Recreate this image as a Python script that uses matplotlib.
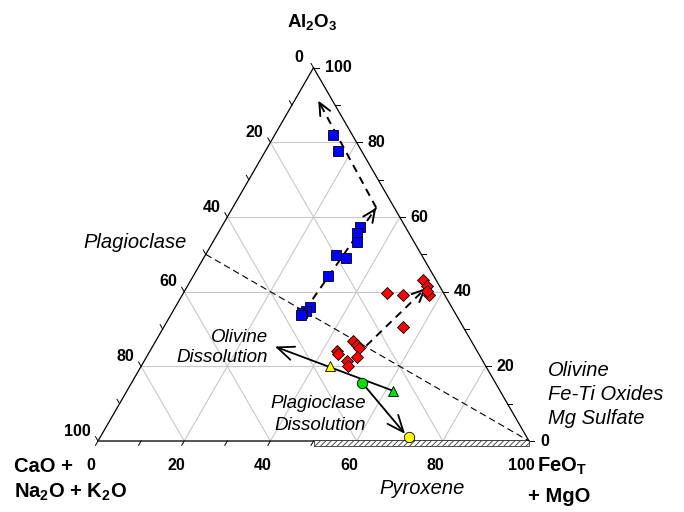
import numpy as np
import matplotlib
matplotlib.use('Agg')
import matplotlib.pyplot as plt
from matplotlib.patches import Rectangle
from matplotlib.patches import ArrowStyle

plt.rcParams['font.family'] = ['Liberation Sans', 'DejaVu Sans']
plt.rcParams['mathtext.fontset'] = 'custom'
plt.rcParams['mathtext.rm'] = 'Liberation Sans'
plt.rcParams['mathtext.it'] = 'Liberation Sans:italic'
plt.rcParams['mathtext.bf'] = 'Liberation Sans:bold'
plt.rcParams['mathtext.default'] = 'bf'
plt.rcParams['hatch.linewidth'] = 0.6

# ---------------- data (wt%): Al2O3 and FeOT+MgO; CaO+Na2O+K2O = remainder
blue_al = [82.0, 77.8, 57.3, 55.7, 53.2, 49.9, 49.1, 44.3, 36.0, 34.9, 34.4, 33.8]
blue_fm = [13.6, 16.7, 32.1, 32.2, 33.6, 30.2, 33.0, 31.3, 31.2, 30.8, 30.1, 30.1]

red_al = [39.6, 39.1, 43.0, 41.6, 39.1, 40.2, 30.6, 26.8, 25.7, 25.0, 24.1, 23.3, 22.6, 21.4, 20.2]
red_fm = [47.2, 51.3, 54.0, 55.6, 57.3, 56.2, 55.5, 45.8, 47.3, 48.1, 43.3, 44.0, 48.9, 47.1, 48.0]

yellow_tri = (20.1, 43.8)   # (Al2O3, FeOT+MgO)
green_circ = (15.5, 53.6)
green_tri = (13.5, 61.6)
yellow_circ = (1.0, 71.6)

# trend arrows (Al2O3, FeOT+MgO)
blue_arrow1 = [(35.0, 30.5), (62.5, 33.3)]
blue_arrow2 = [(62.5, 33.3), (91.2, 5.5)]
red_arrow = [(23.0, 48.5), (41.0, 55.6)]
olivine_arrow = [green_tri, (25.3, 28.4)]
plag_arrow = [green_circ, (1.9, 70.3)]
plag_line = [(50.0, 0.0), (0.0, 100.0)]
pyroxene_range = [50.0, 100.0]

ticks_major = [0, 20, 40, 60, 80, 100]
grid_vals = [20, 40, 60, 80]

H = np.sqrt(3) / 2


def tern(al, fm):
    al = np.asarray(al, float) / 100.0
    fm = np.asarray(fm, float) / 100.0
    return fm + al / 2.0, al * H


# pixel helper for layout (text placement only)
S = 431.0
X0, Y0 = 98.0, 441.0


def px(X, Y):
    return (X - X0) / S, (Y0 - Y) / S


fig = plt.figure(figsize=(6.84, 5.12), dpi=100)
ax = fig.add_axes([0, 0, 1, 1])
ax.set_xlim(-X0 / S, (684 - X0) / S)
ax.set_ylim(-(512 - Y0) / S, Y0 / S)
ax.axis('off')

# grid
gc = '#c8c8c8'
for k in grid_vals:
    x, y = tern([k, k], [0, 100 - k]); ax.plot(x, y, color=gc, lw=0.8, zorder=1)
    x, y = tern([0, 100 - k], [k, k]); ax.plot(x, y, color=gc, lw=0.8, zorder=1)
    x, y = tern([100 - k, 0], [0, 100 - k]); ax.plot(x, y, color=gc, lw=0.8, zorder=1)

# triangle edges
x, y = tern([0, 100], [0, 0]); ax.plot(x, y, color='black', lw=0.9, zorder=2)
x, y = tern([100, 0], [0, 100]); ax.plot(x, y, color='black', lw=0.9, zorder=2)
x, y = tern([0, 0], [0, 100]); ax.plot(x, y, color='#555555', lw=1.4, zorder=2)

# ticks
tl = 5.0 / S
for k in range(0, 101, 10):
    bx, by = tern(0, k)
    ax.plot([bx, bx - 0.5 * tl], [by, by - H * tl], color='black', lw=0.7, zorder=2)
    rx, ry = tern(k, 100 - k)
    ax.plot([rx, rx + tl], [ry, ry], color='black', lw=0.7, zorder=2)
    lx, ly = tern(100 - k, 0)
    ax.plot([lx, lx - 0.5 * tl], [ly, ly + H * tl], color='black', lw=0.7, zorder=2)

p2pt = 0.72
tfs = 11.5
for k in ticks_major:
    bx, by = tern(0, k)
    ax.annotate(str(k), (bx, by), xytext=(-7.5 * p2pt, -24 * p2pt), textcoords='offset points',
                ha='center', va='center', fontsize=tfs, fontweight='bold')
    rx, ry = tern(k, 100 - k)
    ax.annotate(str(k), (rx, ry), xytext=(11 * p2pt, 0), textcoords='offset points',
                ha='left', va='center', fontsize=tfs, fontweight='bold')
    lx, ly = tern(100 - k, 0)
    off_x = -10 if k == 0 else -7
    ax.annotate(str(k), (lx, ly), xytext=(off_x * p2pt, 10 * p2pt), textcoords='offset points',
                ha='right', va='center', fontsize=tfs, fontweight='bold')

# pyroxene hatched bar
bx0, _ = tern(0, pyroxene_range[0])
bx1, _ = tern(0, pyroxene_range[1])
ax.add_patch(Rectangle((bx0, -4.5 / S), bx1 - bx0, 5.5 / S, facecolor='white',
                       edgecolor='#333333', hatch='//////', lw=0.6, zorder=3))

# plagioclase - FeO line
x, y = tern([p[0] for p in plag_line], [p[1] for p in plag_line])
ax.plot(x, y, color='black', lw=0.8, dashes=(6, 3.5), zorder=3)


def dashed_arrow(pts, lw=1.4, hl=0.55, hw=0.25, ms=16):
    x, y = tern([p[0] for p in pts], [p[1] for p in pts])
    ax.plot(x, y, color='black', lw=lw, dashes=(4, 3), zorder=4)
    bx = x[1] - 0.04 * (x[1] - x[0])
    by = y[1] - 0.04 * (y[1] - y[0])
    ax.annotate('', xy=(x[1], y[1]), xytext=(bx, by),
                arrowprops=dict(arrowstyle=ArrowStyle('->', head_length=hl, head_width=hw),
                                lw=lw, color='black', shrinkA=0, shrinkB=0, mutation_scale=ms),
                zorder=4)


def solid_arrow(pts, lw=1.3):
    x, y = tern([p[0] for p in pts], [p[1] for p in pts])
    ax.annotate('', xy=(x[1], y[1]), xytext=(x[0], y[0]),
                arrowprops=dict(arrowstyle=ArrowStyle('->', head_length=0.6, head_width=0.25),
                                lw=lw, color='black', shrinkA=0, shrinkB=0, mutation_scale=20),
                zorder=4)


dashed_arrow(blue_arrow1)
dashed_arrow(blue_arrow2)
dashed_arrow(red_arrow)
solid_arrow(olivine_arrow)
solid_arrow(plag_arrow)

# markers
x, y = tern(blue_al, blue_fm)
ax.plot(x, y, 's', ms=7.5, mfc='#0000ff', mec='black', mew=0.6, ls='none', zorder=5)
x, y = tern(red_al, red_fm)
ax.plot(x, y, 'D', ms=6.6, mfc='#ff0000', mec='black', mew=0.6, ls='none', zorder=5)
x, y = tern(*yellow_tri)
ax.plot(x, y, '^', ms=7.5, mfc='#ffff00', mec='black', mew=0.6, zorder=6)
x, y = tern(*green_circ)
ax.plot(x, y, 'o', ms=7.5, mfc='#00e000', mec='black', mew=0.6, zorder=6)
x, y = tern(*green_tri)
ax.plot(x, y, '^', ms=7.5, mfc='#00e000', mec='black', mew=0.6, zorder=6)
x, y = tern(*yellow_circ)
ax.plot(x, y, 'o', ms=7.5, mfc='#ffff00', mec='black', mew=0.6, zorder=6)

# axis titles
ax.text(*px(312, 27), r'Al$_2$O$_3$', ha='center', va='baseline', fontsize=13.5, fontweight='bold')
ax.text(*px(14, 467), 'CaO +', ha='left', va='center', fontsize=14.5, fontweight='bold')
ax.text(*px(14, 492), r'Na$_2$O + K$_2$O', ha='left', va='center', fontsize=14.5, fontweight='bold')
ax.text(*px(537, 472), r'FeO$_T$', ha='left', va='baseline', fontsize=14.5, fontweight='bold')
ax.text(*px(528, 497), '+ MgO', ha='left', va='center', fontsize=14.5, fontweight='bold')

# annotations
ax.text(*px(135, 243), 'Plagioclase', ha='center', va='center', fontsize=14.5, style='italic')
ax.text(*px(268, 337), 'Olivine', ha='right', va='center', fontsize=13.5, style='italic')
ax.text(*px(268, 357), 'Dissolution', ha='right', va='center', fontsize=13.5, style='italic')
ax.text(*px(366, 404), 'Plagioclase', ha='right', va='center', fontsize=13.5, style='italic')
ax.text(*px(366, 425), 'Dissolution', ha='right', va='center', fontsize=13.5, style='italic')
ax.text(*px(548, 370), 'Olivine', ha='left', va='center', fontsize=14.5, style='italic')
ax.text(*px(548, 395), 'Fe-Ti Oxides', ha='left', va='center', fontsize=14.5, style='italic')
ax.text(*px(548, 418), 'Mg Sulfate', ha='left', va='center', fontsize=14.5, style='italic')
ax.text(*px(422, 488), 'Pyroxene', ha='center', va='center', fontsize=14.5, style='italic')

fig.savefig('out.png', dpi=100)
